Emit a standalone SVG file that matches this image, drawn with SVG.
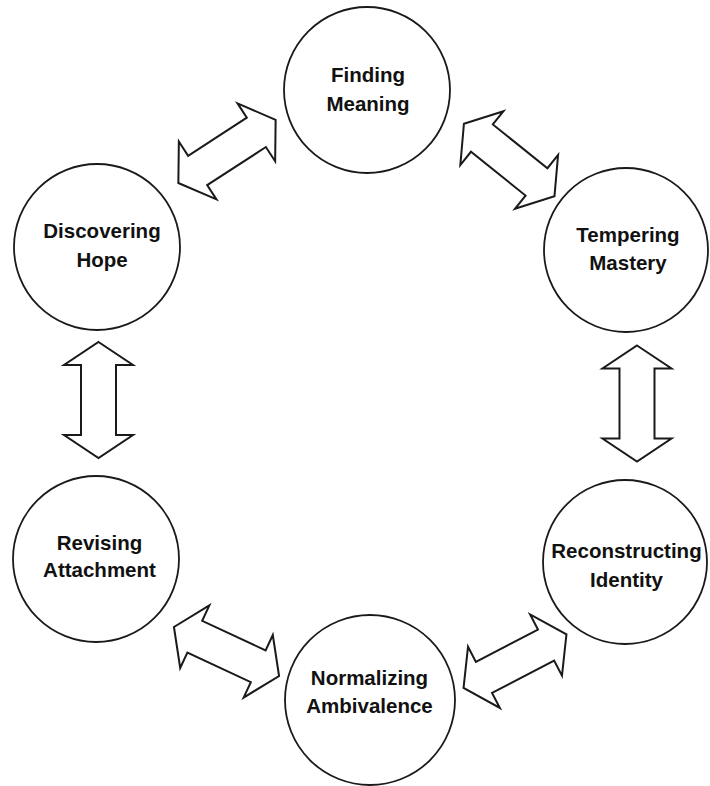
<svg xmlns="http://www.w3.org/2000/svg" width="710" height="786" viewBox="0 0 710 786">
  <style>
    .node circle { fill: #ffffff; stroke: #1a1a1a; stroke-width: 1.8; }
    .node text { font-family: "Liberation Sans", Arial, sans-serif; font-weight: bold; font-size: 20.5px; fill: #111111; text-anchor: middle; }
    .link { fill: #ffffff; stroke: #1a1a1a; stroke-width: 2; stroke-linejoin: miter; }
  </style>
  <defs>
    <!-- double-headed block arrow, centred on the origin, pointing along x -->
    <path id="dbl" d="M -58 0 L -35 -34.5 L -35 -17.5 L 35 -17.5 L 35 -34.5 L 58 0 L 35 34.5 L 35 17.5 L -35 17.5 L -35 34.5 Z"/>
  </defs>
  <rect width="710" height="786" fill="#ffffff"/>

  <g id="connectors">
    <use href="#dbl" class="link" transform="translate(227 151.4) rotate(-33)"/>
    <use href="#dbl" class="link" transform="translate(509.2 160) rotate(38.7)"/>
    <use href="#dbl" class="link" transform="translate(98.5 400) rotate(90)"/>
    <use href="#dbl" class="link" transform="translate(637 403.5) rotate(90)"/>
    <use href="#dbl" class="link" transform="translate(226.5 651.5) rotate(25)"/>
    <use href="#dbl" class="link" transform="translate(515 661.2) rotate(-27.5)"/>
  </g>

  <g id="finding-meaning" class="node">
    <circle cx="367" cy="90" r="83"/>
    <text x="368" y="82">Finding</text>
    <text x="368" y="111">Meaning</text>
  </g>
  <g id="discovering-hope" class="node">
    <circle cx="97" cy="247" r="83"/>
    <text x="102" y="238">Discovering</text>
    <text x="102" y="267">Hope</text>
  </g>
  <g id="tempering-mastery" class="node">
    <circle cx="626" cy="250" r="82"/>
    <text x="628" y="242">Tempering</text>
    <text x="628" y="270">Mastery</text>
  </g>
  <g id="revising-attachment" class="node">
    <circle cx="96" cy="559" r="83"/>
    <text x="99.5" y="550">Revising</text>
    <text x="99.5" y="577">Attachment</text>
  </g>
  <g id="reconstructing-identity" class="node">
    <circle cx="625" cy="562" r="82"/>
    <text x="626.5" y="558">Reconstructing</text>
    <text x="626.5" y="587">Identity</text>
  </g>
  <g id="normalizing-ambivalence" class="node">
    <circle cx="370" cy="700" r="85"/>
    <text x="369.5" y="685">Normalizing</text>
    <text x="369.5" y="713">Ambivalence</text>
  </g>
</svg>
